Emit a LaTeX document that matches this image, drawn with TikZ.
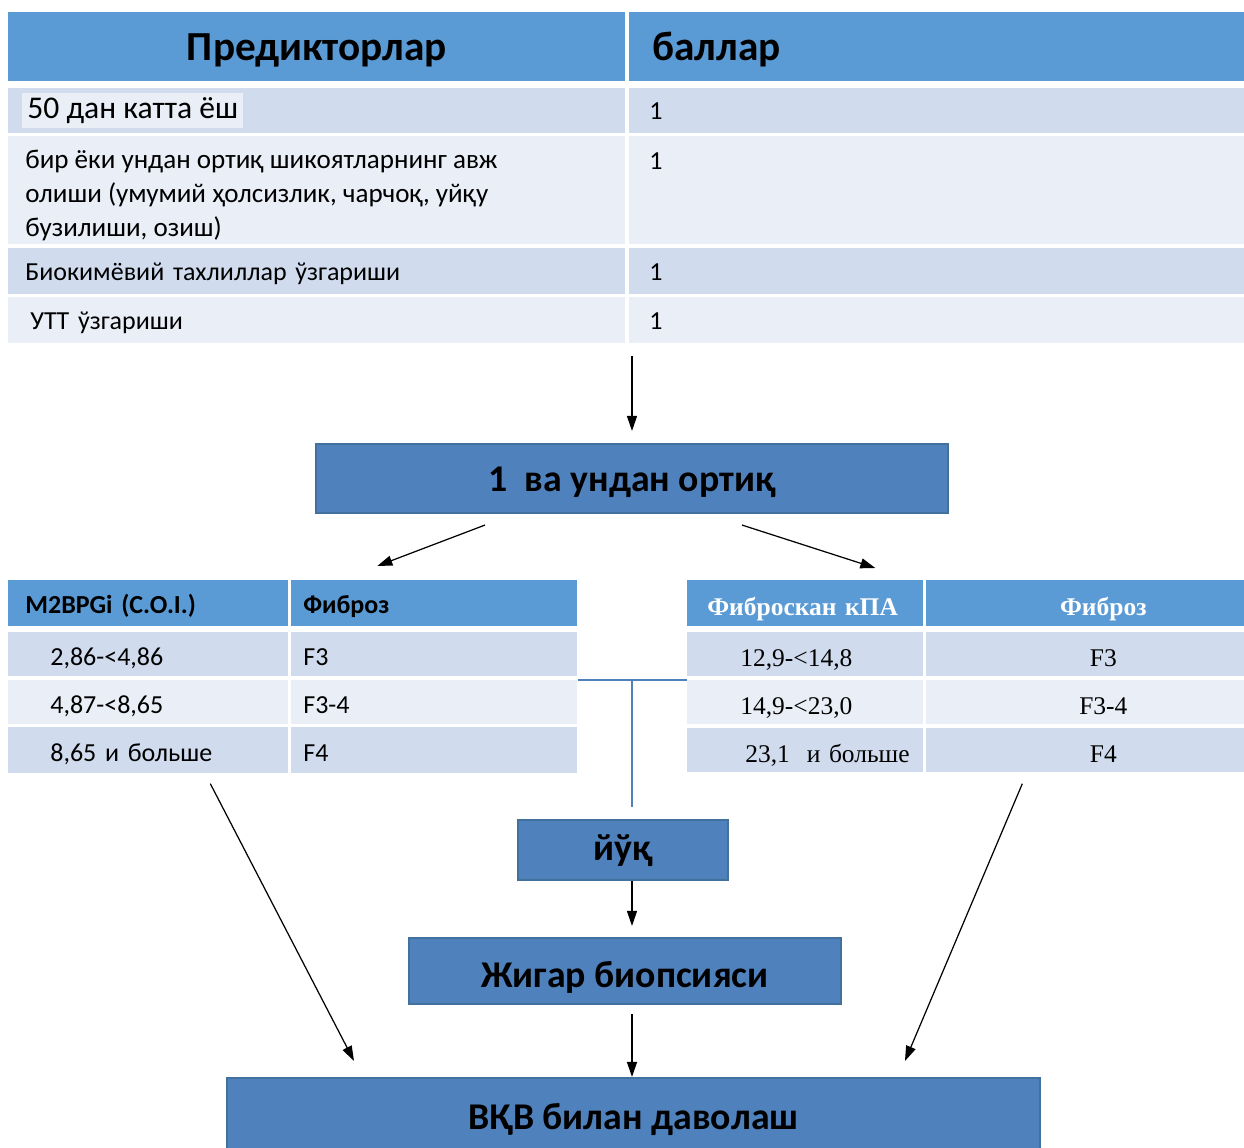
\documentclass[tikz,border=0pt]{standalone}
\usepackage{fontspec}
\setmainfont{Carlito}
\newfontfamily\serifrm{Liberation Serif}
\usetikzlibrary{arrows.meta,positioning,calc}
\definecolor{hdrblue}{HTML}{5B9BD5}
\definecolor{rowdark}{HTML}{D0DCEE}
\definecolor{rowlight}{HTML}{E9EEF7}
\definecolor{boxblue}{HTML}{4F81BD}
\definecolor{boxedge}{HTML}{41719C}

\begin{document}
\begin{tikzpicture}[x=0.02cm, y=-0.02cm,
  cell/.style n args={3}{anchor=north west, inner sep=0pt, align=left,
                         text width=#1, minimum height=#2,
                         execute at begin node={\hspace*{#3}}},
  ccell/.style 2 args={anchor=north west, inner sep=0pt, align=center,
                       text width=#1, minimum height=#2},
  hdr/.style={fill=hdrblue},
  rowa/.style={fill=rowdark},
  rowb/.style={fill=rowlight},
  big/.style={font=\fontsize{23.5}{27}\selectfont\bfseries, text height=15.9pt, text depth=0pt},
  small/.style={font=\fontsize{14.8}{18}\selectfont, text height=12.5pt, text depth=0pt},
  smallt/.style={font=\fontsize{14.8}{18}\selectfont, text height=10.2pt, text depth=0pt},
  smallb/.style={font=\fontsize{14.8}{18}\selectfont\bfseries, text height=11.4pt, text depth=0pt},
  tms/.style={font=\fontsize{14.5}{17}\serifrm, text height=13.6pt, text depth=0pt},
  tmsb/.style={font=\fontsize{14.5}{17}\serifrm\bfseries, text=white, text height=13.6pt, text depth=0pt},
  stepbox/.style={draw=boxedge, line width=1.2pt, fill=boxblue, text depth=0pt,
                  font=\fontsize{21.5}{25}\selectfont\bfseries},
  arr/.style={-{Triangle[length=3mm,width=2mm]}, line width=0.7pt},
  link/.style={draw=boxblue, line width=0.6pt}
]
\useasboundingbox (0,0) rectangle (1244,1148);

% predictors table
\node[ccell={12.34cm}{1.38cm}, hdr, big] (ph) at (8,12) {Предикторлар};
\node[cell={12.42cm}{1.38cm}{0.46cm}, hdr, big] (bh) at (629,12) {баллар};

\node[ccell={12.34cm}{0.9cm}, rowa] (p1) at (8,88) {};
\node[fill=rowlight, anchor=west, inner xsep=0.1cm, inner ysep=0pt, minimum height=0.7cm,
      font=\fontsize{18}{21}\selectfont] (p1t) at ([xshift=0.28cm]p1.west) {50 дан катта ёш};
\node[cell={12.42cm}{0.9cm}{0.4cm}, rowa, smallt] (b1) at (629,88) {1};

\node[ccell={12.34cm}{2.16cm}, rowb] (p2) at (8,136) {};
\node[anchor=north west, inner sep=0pt, align=left, font=\fontsize{15.4}{19.3}\selectfont]
  (p2t) at ([shift={(17,5.5)}]p2.north west)
  {\rule{0pt}{15pt}бир ёки ундан ортиқ шикоятларнинг авж\\олиши (умумий ҳолсизлик, чарчоқ, уйқу\\бузилиши, озиш)};
\node[ccell={12.42cm}{2.16cm}, rowb] (b2) at (629,136) {};
\node[anchor=north west, inner sep=0pt, font=\fontsize{14.8}{18}\selectfont] (b2t)
  at ([shift={(20,16)}]b2.north west) {1};

\node[cell={12.34cm}{0.92cm}{0.34cm}, rowa, smallt] (p3) at (8,248) {Биокимёвий тахлиллар ўзгариши};
\node[cell={12.42cm}{0.92cm}{0.4cm}, rowa, smallt] (b3) at (629,248) {1};

\node[cell={12.34cm}{0.92cm}{0.44cm}, rowb, smallt] (p4) at (8,297) {УТТ ўзгариши};
\node[cell={12.42cm}{0.92cm}{0.4cm}, rowb, smallt] (b4) at (629,297) {1};

\coordinate (jn) at (632,681);

% threshold box
\node[stepbox, text height=14.4pt, minimum width=12.64cm, minimum height=1.38cm] (one)
  at (632,478.5) {1\ \ ва ундан ортиқ};

% M2BPGi table
\node[cell={5.6cm}{0.92cm}{0.34cm}, hdr, smallb] (mh1) at (8,580) {M2BPGi (C.O.I.)};
\node[cell={5.72cm}{0.92cm}{0.24cm}, hdr, smallb] (mh2) at (291,580) {Фиброз};
\node[cell={5.6cm}{0.88cm}{0.84cm}, rowa, small] (m1a) at (8,632) {2,86-<4,86};
\node[cell={5.72cm}{0.88cm}{0.24cm}, rowa, small] (m1b) at (291,632) {F3};
\node[cell={5.6cm}{0.88cm}{0.84cm}, rowb, small] (m2a) at (8,680) {4,87-<8,65};
\node[cell={5.72cm}{0.88cm}{0.24cm}, rowb, small] (m2b) at (291,680) {F3-4};
\node[cell={5.6cm}{0.92cm}{0.84cm}, rowa, small] (m3a) at (8,727) {8,65 и больше};
\node[cell={5.72cm}{0.92cm}{0.24cm}, rowa, small] (m3b) at (291,727) {F4};

% Fibroscan table
\node[cell={4.72cm}{0.92cm}{0.4cm}, hdr, tmsb] (fh1) at (687,580) {Фиброскан кПА};
\node[ccell={7.08cm}{0.92cm}, hdr, tmsb] (fh2) at (926,580) {Фиброз};
\node[cell={4.72cm}{0.88cm}{1.06cm}, rowa, tms] (f1a) at (687,632) {12,9-<14,8};
\node[ccell={7.08cm}{0.88cm}, rowa, tms] (f1b) at (926,632) {F3};
\node[cell={4.72cm}{0.88cm}{1.06cm}, rowb, tms] (f2a) at (687,680) {14,9-<23,0};
\node[ccell={7.08cm}{0.88cm}, rowb, tms] (f2b) at (926,680) {F3-4};
\node[cell={4.72cm}{0.88cm}{1.16cm}, rowa, tms] (f3a) at (687,728) {23,1\ \ и больше};
\node[ccell={7.08cm}{0.88cm}, rowa, tms] (f3b) at (926,728) {F4};

% lower boxes
\node[stepbox, text height=11.4pt, minimum width=4.2cm, minimum height=1.2cm] (no)
  at (623,850) {йўқ};
\node[stepbox, text height=19.3pt, minimum width=8.64cm, minimum height=1.32cm] (bio)
  at (625,971) {Жигар биопсияси};
\node[stepbox, text height=13.6pt, minimum width=16.26cm, minimum height=1.6cm] (trt)
  at (633.5,1118) {ВҚВ билан даволаш};

\draw[arr, shorten <=0.24cm, shorten >=0.24cm] (jn |- b4.south) -- (jn |- one.north);
\draw[arr] ([shift={(-147,11)}]one.south) -- ([shift={(-57,-14)}]mh2.north);
\draw[arr] ([shift={(110,11)}]one.south) -- ([shift={(70,-12)}]fh1.north);
\draw[link] (m2b.north east) -- (f2a.north west);
\draw[link, shorten >=0.24cm] (jn) -- (jn |- no.north);
\draw[arr, shorten >=0.22cm] (jn |- no.south) -- (jn |- bio.north);
\draw[arr, shorten <=0.18cm] (jn |- bio.south) -- (jn |- trt.north);
\draw[arr] ([shift={(62,10)}]m3a.south) -- ([shift={(-279.5,-16)}]trt.north);
\draw[arr] ([shift={(-81,11)}]f3b.south) -- ([shift={(271.5,-16)}]trt.north);
\end{tikzpicture}
\end{document}
